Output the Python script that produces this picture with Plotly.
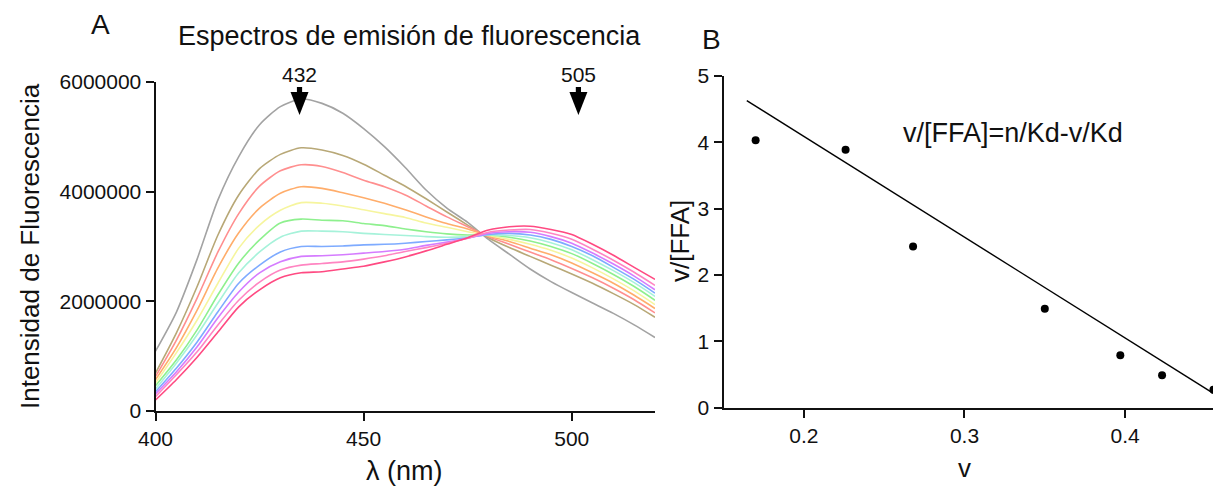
import plotly.graph_objects as go

# ---------------- Data: panel A (emission spectra, intensity in millions) ----------------
wavelength = [400, 405, 410, 415, 420, 425, 430, 435, 440, 445, 450, 455, 460,
              465, 470, 475, 480, 485, 490, 495, 500, 505, 510, 515, 520]

gray   = [1.09, 1.80, 2.77, 3.85, 4.64, 5.22, 5.55, 5.69, 5.61, 5.43, 5.15, 4.82, 4.44,
          4.03, 3.70, 3.44, 3.13, 2.86, 2.59, 2.36, 2.16, 1.97, 1.78, 1.57, 1.34]
khaki  = [0.69, 1.42, 2.27, 3.21, 3.94, 4.42, 4.68, 4.80, 4.76, 4.66, 4.50, 4.30, 4.10,
          3.87, 3.63, 3.39, 3.16, 2.98, 2.82, 2.66, 2.50, 2.33, 2.14, 1.94, 1.71]
salmon = [0.63, 1.29, 2.06, 2.90, 3.60, 4.10, 4.38, 4.49, 4.46, 4.35, 4.21, 4.09, 3.94,
          3.74, 3.54, 3.36, 3.18, 3.04, 2.90, 2.76, 2.60, 2.43, 2.24, 2.03, 1.79]
orange = [0.57, 1.15, 1.84, 2.61, 3.25, 3.70, 3.97, 4.09, 4.06, 3.98, 3.89, 3.79, 3.67,
          3.54, 3.42, 3.32, 3.19, 3.09, 2.97, 2.85, 2.70, 2.52, 2.33, 2.11, 1.87]
yellow = [0.51, 1.06, 1.66, 2.33, 2.97, 3.39, 3.66, 3.80, 3.79, 3.74, 3.67, 3.60, 3.53,
          3.43, 3.35, 3.27, 3.20, 3.13, 3.04, 2.93, 2.79, 2.61, 2.41, 2.19, 1.94]
green  = [0.46, 0.93, 1.48, 2.12, 2.70, 3.12, 3.43, 3.50, 3.48, 3.47, 3.42, 3.38, 3.32,
          3.27, 3.23, 3.21, 3.21, 3.17, 3.10, 3.00, 2.87, 2.69, 2.49, 2.27, 2.02]
aqua   = [0.40, 0.87, 1.39, 1.97, 2.52, 2.90, 3.17, 3.28, 3.28, 3.27, 3.24, 3.22, 3.20,
          3.18, 3.17, 3.18, 3.21, 3.20, 3.16, 3.07, 2.94, 2.76, 2.56, 2.34, 2.09]
blue   = [0.35, 0.78, 1.26, 1.81, 2.33, 2.66, 2.90, 3.00, 3.00, 3.01, 3.03, 3.04, 3.06,
          3.09, 3.12, 3.16, 3.22, 3.24, 3.21, 3.13, 3.00, 2.83, 2.62, 2.40, 2.15]
violet = [0.31, 0.71, 1.17, 1.70, 2.17, 2.52, 2.72, 2.82, 2.83, 2.85, 2.88, 2.91, 2.95,
          3.02, 3.08, 3.15, 3.24, 3.27, 3.26, 3.18, 3.06, 2.88, 2.68, 2.46, 2.21]
pink   = [0.26, 0.66, 1.08, 1.57, 2.02, 2.35, 2.57, 2.66, 2.69, 2.72, 2.77, 2.83, 2.91,
          2.98, 3.06, 3.15, 3.26, 3.30, 3.31, 3.24, 3.13, 2.95, 2.75, 2.53, 2.29]
red    = [0.20, 0.57, 0.98, 1.44, 1.90, 2.21, 2.43, 2.52, 2.54, 2.59, 2.64, 2.72, 2.81,
          2.92, 3.04, 3.16, 3.30, 3.36, 3.37, 3.31, 3.22, 3.04, 2.84, 2.62, 2.40]

spectra = [gray, khaki, salmon, orange, yellow, green, aqua, blue, violet, pink, red]
spectra_colors = ["#a3a3a3", "#b8a877", "#ff8f8f", "#ffad6b", "#f6f59e", "#8ef08e",
                  "#a6f2da", "#7eabff", "#d57cff", "#ff85c2", "#ff4a82"]

left_yticks = [0, 2000000, 4000000, 6000000]
left_xticks = [400, 450, 500]
arrow_x = [434.6, 501.6]
arrow_labels = ["432", "505"]
arrow_tip_y = 5.4e6

# ---------------- Data: panel B (Scatchard plot) ----------------
v_values = [0.170, 0.226, 0.268, 0.350, 0.397, 0.423, 0.455]
v_ffa = [4.03, 3.89, 2.43, 1.49, 0.79, 0.49, 0.27]
fit_v = [0.1645, 0.4547]
fit_vffa = [4.63, 0.22]
right_xticks = [0.2, 0.3, 0.4]
right_yticks = [0, 1, 2, 3, 4, 5]

W, H = 1213, 490
FONT = "Arial, Liberation Sans, sans-serif"


def fx(px):
    return px / W


def fy(py):
    return 1 - py / H


fig = go.Figure()

for vals, col in zip(spectra, spectra_colors):
    fig.add_trace(go.Scatter(
        x=wavelength, y=[v * 1e6 for v in vals], mode="lines",
        line=dict(color=col, width=1.6, shape="spline", smoothing=0.7),
        xaxis="x", yaxis="y", showlegend=False, hoverinfo="skip"))

fig.add_trace(go.Scatter(
    x=fit_v, y=fit_vffa, mode="lines", line=dict(color="black", width=1.4),
    xaxis="x2", yaxis="y2", showlegend=False))
fig.add_trace(go.Scatter(
    x=v_values, y=v_ffa, mode="markers", marker=dict(color="black", size=8),
    xaxis="x2", yaxis="y2", showlegend=False))

axis_common = dict(showgrid=False, zeroline=False, showline=True, linecolor="#111",
                   linewidth=2, ticks="outside", tickwidth=2, ticklen=8,
                   tickcolor="#111", automargin=False,
                   tickfont=dict(family=FONT, size=21, color="#111"))

fig.update_layout(
    template="none",
    width=W, height=H, margin=dict(l=0, r=0, t=0, b=0, pad=0), autosize=False,
    paper_bgcolor="white", plot_bgcolor="white",
    font=dict(family=FONT, color="#111"),
    xaxis=dict(domain=[fx(155.5), fx(655)], range=[400, 520], tickvals=left_xticks,
               anchor="y", **axis_common),
    yaxis=dict(domain=[fy(411), fy(82)], range=[0, 6e6], tickvals=left_yticks,
               ticktext=[str(t) for t in left_yticks], anchor="x", **axis_common),
    xaxis2=dict(domain=[fx(723.5), 1.0], range=[0.15, 0.4547], tickvals=right_xticks,
                ticktext=["0.2", "0.3", "0.4"], anchor="y2", **axis_common),
    yaxis2=dict(domain=[fy(407.7), fy(76)], range=[0, 5], tickvals=right_yticks,
                anchor="x2", **axis_common),
)

shapes = []
for ax in arrow_x:
    shapes.append(dict(type="path", xref="x", yref="y", xsizemode="pixel",
                       ysizemode="pixel", xanchor=ax, yanchor=arrow_tip_y,
                       path="M-9,23 L9,23 L0,0 Z", fillcolor="black",
                       line=dict(width=0)))
    shapes.append(dict(type="rect", xref="x", yref="y", xsizemode="pixel",
                       ysizemode="pixel", xanchor=ax, yanchor=arrow_tip_y,
                       x0=-2.6, x1=2.6, y0=22, y1=28, fillcolor="black",
                       line=dict(width=0)))
fig.update_layout(shapes=shapes)

ann = []


def text(x, y, s, size, xref="paper", angle=0):
    ann.append(dict(x=x, y=y, xref=xref, yref="paper", text=s, showarrow=False,
                    xanchor="center", yanchor="middle", textangle=angle,
                    font=dict(family=FONT, size=size, color="#111")))


text(fx(100), fy(25), "A", 28)
text(fx(409), fy(36), "Espectros de emisión de fluorescencia", 27)
for ax, lab in zip(arrow_x, arrow_labels):
    text(ax, fy(74), lab, 21, xref="x")
text(fx(30), fy(246), "Intensidad de Fluorescencia", 26, angle=-90)
text(fx(404), fy(471), "λ (nm)", 27)
text(fx(711), fy(40), "B", 28)
text(fx(1013), fy(133), "v/[FFA]=n/Kd-v/Kd", 27)
text(fx(680), fy(241), "v/[FFA]", 26, angle=-90)
text(fx(964), fy(468), "v", 26)
fig.update_layout(annotations=ann)

fig.write_html("out.html",
               config={"displayModeBar": False, "staticPlot": True},
               post_script="document.body.style.margin='0px';"
                           "document.body.style.overflow='hidden';")
